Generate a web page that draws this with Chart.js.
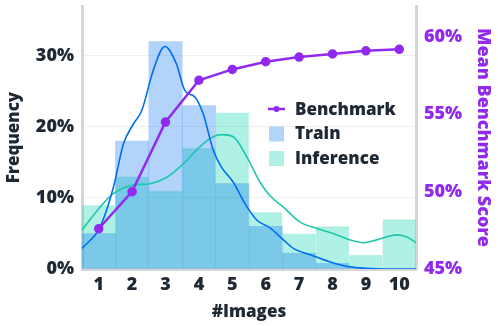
<!DOCTYPE html>
<html>
<head>
<meta charset="utf-8">
<script src="https://cdn.jsdelivr.net/npm/chart.js@4"></script>
<style>
  html, body { margin: 0; padding: 0; background: #fff; }
  #wrap { width: 498px; height: 326px; }
</style>
</head>
<body>
<div id="wrap"><canvas id="chart"></canvas></div>
<script>
// données
const imageCounts = ['1', '2', '3', '4', '5', '6', '7', '8', '9', '10'];
const trainFreq = [5, 18, 32, 23, 12, 6, 2.2, 0.8, 0, 0];
const inferenceFreq = [9, 13, 11, 17, 22, 8, 5, 6, 2, 7];
const benchmarkScore = [47.6, 50.0, 54.5, 57.2, 57.9, 58.4, 58.7, 58.9, 59.1, 59.2];

// courbes de densité (x = nombre d'images, y = %)
const trainKdeX = [0.5, 1.04, 1.44, 1.74, 2.04, 2.29, 2.63, 2.98, 3.33, 3.58, 3.88, 4.13, 4.43, 4.68, 5.03, 5.38, 5.73, 6.13, 6.53, 6.83, 7.33, 7.93, 8.52, 9.0, 9.6, 10.5];
const trainKdeY = [2.9, 5.9, 11.5, 17.6, 20.4, 22.3, 27.9, 31.3, 28.8, 25.1, 24.2, 21.8, 16.7, 14.3, 12.2, 9.2, 6.9, 5.8, 4.1, 2.9, 2.0, 1.0, 0.3, 0.1, 0, 0];
const inferenceKdeX = [0.5, 1.04, 1.44, 2.04, 2.54, 3.04, 3.53, 4.03, 4.43, 4.68, 5.03, 5.43, 5.83, 6.13, 6.53, 7.03, 7.53, 8.02, 8.52, 8.92, 9.32, 9.92, 10.22, 10.5];
const inferenceKdeY = [5.5, 8.7, 10.6, 11.8, 12.0, 12.9, 14.8, 17.2, 18.6, 18.9, 18.6, 15.8, 12.2, 10.3, 8.7, 6.6, 5.7, 5.0, 4.1, 3.7, 4.1, 4.8, 4.5, 3.7];

const freqTicks = [0, 10, 20, 30];
const scoreTicks = [45, 50, 55, 60];

const DARK = '#1f2933';
const PURPLE = '#9129ef';
const BLUE = 'rgb(0,110,240)';
const TEAL = 'rgb(30,200,170)';
const FONT = '"Open Sans", sans-serif';

function toPoints(xs, ys) {
    return xs.map((x, i) => ({x: x, y: ys[i]}));
}

// pas de marge automatique pour les étiquettes des axes verticaux
function noLabelPadding(scale) {
    scale.width = 82;
    scale.paddingTop = 0;
    scale.paddingBottom = 0;
}

// Légende dessinée à la main dans la zone du graphique
const insideLegend = {
    id: 'insideLegend',
    afterDraw(chart) {
        const c = chart.ctx;
        const a = chart.chartArea;
        const x0 = a.right - 148;
        const y0 = a.top + 103;
        const items = [
            {label: 'Benchmark', kind: 'line', color: PURPLE},
            {label: 'Train', kind: 'box', color: 'rgba(0,110,240,0.3)'},
            {label: 'Inference', kind: 'box', color: 'rgba(30,215,180,0.35)'}
        ];
        c.save();
        c.font = '800 17px ' + FONT;
        c.textBaseline = 'middle';
        items.forEach((it, i) => {
            const y = y0 + i * 24.5;
            if (it.kind === 'line') {
                c.strokeStyle = it.color;
                c.lineWidth = 2.5;
                c.beginPath();
                c.moveTo(x0, y);
                c.lineTo(x0 + 17, y);
                c.stroke();
                c.fillStyle = it.color;
                c.beginPath();
                c.arc(x0 + 8.5, y, 3, 0, Math.PI * 2);
                c.fill();
            } else {
                c.fillStyle = it.color;
                c.fillRect(x0 + 1, y - 7, 15, 15);
            }
            c.fillStyle = DARK;
            c.fillText(it.label, x0 + 27, y + 1);
        });
        c.restore();
    }
};

const tickFont = { family: FONT, size: 18, weight: 800 };
const titleFont = { family: FONT, size: 17, weight: 800 };

const ctx = document.getElementById('chart');
new Chart(ctx, {
    data: {
        labels: imageCounts,
        datasets: [{
            type: 'line',
            label: 'Benchmark',
            data: benchmarkScore,
            yAxisID: 'y1',
            borderColor: PURPLE,
            backgroundColor: PURPLE,
            borderWidth: 2.5,
            pointRadius: 3.5,
            pointHoverRadius: 3.5,
            tension: 0,
            order: 0
        }, {
            type: 'line',
            label: 'Train KDE',
            data: toPoints(trainKdeX, trainKdeY),
            xAxisID: 'x2',
            yAxisID: 'y',
            borderColor: BLUE,
            borderWidth: 1.6,
            pointRadius: 0,
            cubicInterpolationMode: 'monotone',
            order: 1
        }, {
            type: 'line',
            label: 'Inference KDE',
            data: toPoints(inferenceKdeX, inferenceKdeY),
            xAxisID: 'x2',
            yAxisID: 'y',
            borderColor: TEAL,
            borderWidth: 1.6,
            pointRadius: 0,
            cubicInterpolationMode: 'monotone',
            order: 1
        }, {
            type: 'bar',
            label: 'Train',
            data: trainFreq,
            yAxisID: 'y',
            grouped: false,
            backgroundColor: 'rgba(0,110,240,0.3)',
            borderWidth: 0,
            barPercentage: 1,
            categoryPercentage: 1,
            order: 2
        }, {
            type: 'bar',
            label: 'Inference',
            data: inferenceFreq,
            yAxisID: 'y',
            grouped: false,
            backgroundColor: 'rgba(30,215,180,0.35)',
            borderColor: 'rgba(30,200,170,0.15)',
            borderWidth: 1,
            barPercentage: 1,
            categoryPercentage: 1,
            order: 3
        }]
    },
    options: {
        responsive: true,
        maintainAspectRatio: false,
        animation: false,
        layout: { padding: { top: 5, left: 0, right: 0, bottom: 0 } },
        plugins: {
            legend: { display: false },
            tooltip: { enabled: false }
        },
        scales: {
            x: {
                type: 'category',
                offset: true,
                grid: { display: false, drawTicks: false },
                border: { color: '#d3d6db', width: 3 },
                ticks: { color: DARK, font: tickFont, padding: 5 },
                title: { display: true, text: '#Images', color: DARK, font: titleFont, padding: { top: 0 } },
                afterFit(scale) {
                    scale.height = 57;
                    scale.paddingLeft = 0;
                    scale.paddingRight = 0;
                }
            },
            x2: {
                type: 'linear',
                min: 0.5,
                max: 10.5,
                display: false
            },
            y: {
                position: 'left',
                min: 0,
                max: 37,
                afterBuildTicks(scale) { scale.ticks = freqTicks.map(v => ({value: v})); },
                grid: { color: '#efefef', lineWidth: 1, drawTicks: false },
                border: { color: '#d3d6db', width: 3 },
                ticks: {
                    color: DARK,
                    font: tickFont,
                    padding: 8,
                    callback: v => v + '%'
                },
                title: { display: true, text: 'Frequency', color: DARK, font: titleFont, padding: { bottom: 4 } },
                afterFit: noLabelPadding
            },
            y1: {
                position: 'right',
                min: 45,
                max: 62,
                afterBuildTicks(scale) { scale.ticks = scoreTicks.map(v => ({value: v})); },
                grid: { display: false, drawTicks: false },
                border: { color: '#d3d6db', width: 3 },
                ticks: {
                    color: PURPLE,
                    font: tickFont,
                    padding: 8,
                    callback: v => v + '%'
                },
                title: { display: true, text: 'Mean Benchmark Score', color: PURPLE, font: { family: FONT, size: 18, weight: 800 }, padding: { top: 4 } },
                afterFit: noLabelPadding
            }
        }
    },
    plugins: [insideLegend]
});
</script>
</body>
</html>
